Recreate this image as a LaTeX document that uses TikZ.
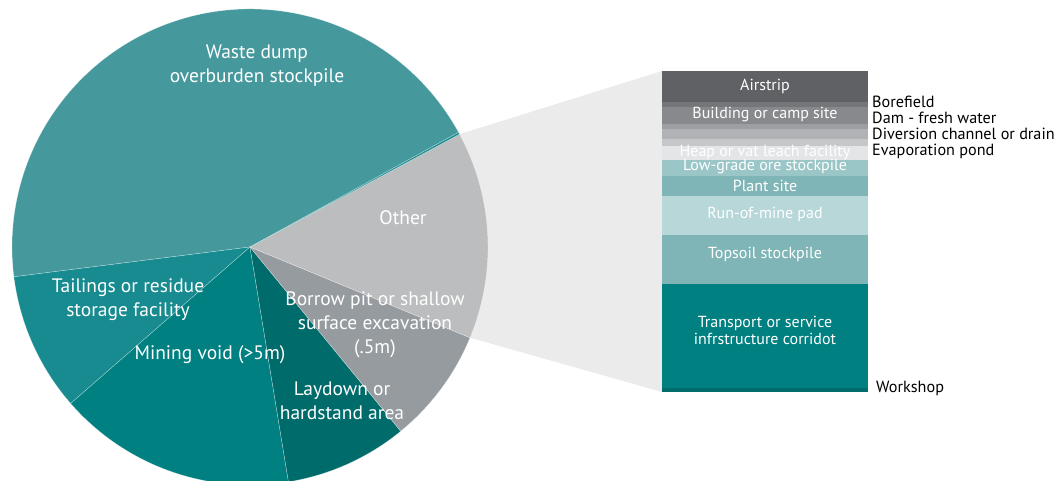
\documentclass[tikz,border=0pt]{standalone}
\usepackage{fontspec}
\setmainfont{PT Sans}
\usetikzlibrary{calc}
\definecolor{cWaste}{HTML}{45989C}
\definecolor{cTail}{HTML}{178B8F}
\definecolor{cMine}{HTML}{008080}
\definecolor{cLay}{HTML}{006B6B}
\definecolor{cBorrow}{HTML}{969BA0}
\definecolor{cOther}{HTML}{BCBDBF}
\definecolor{cBand}{HTML}{EBEBEB}
\definecolor{cAir}{HTML}{606164}
\definecolor{cBore}{HTML}{757679}
\definecolor{cBuild}{HTML}{88898C}
\definecolor{cDam}{HTML}{9D9EA1}
\definecolor{cDiv}{HTML}{B1B2B5}
\definecolor{cEvap}{HTML}{C6C7C9}
\definecolor{cHeap}{HTML}{E4E5E6}
\definecolor{cLow}{HTML}{9BC6C7}
\definecolor{cPlant}{HTML}{7FB5B6}
\definecolor{cRom}{HTML}{B8D7D8}
\definecolor{cTop}{HTML}{7FB5B6}
\definecolor{cTrans}{HTML}{008080}
\definecolor{cWork}{HTML}{006C6C}
\tikzset{
  pielabel/.style={text=white, align=center, font=\fontsize{19.5}{24}\selectfont, inner sep=0pt},
  barlabel/.style={text=white, align=center, font=\fontsize{16}{17}\selectfont, inner sep=0pt},
  sidelabel/.style={text=black, anchor=west, font=\fontsize{16.2}{16}\selectfont, inner sep=0pt},
  wedgeedge/.style={draw=white, draw opacity=0.5, line width=0.4pt}
}
\begin{document}
\begin{tikzpicture}[x=1pt,y=1pt]
\useasboundingbox (0,0) rectangle (1063,481);
\coordinate (c) at (250,234);
\def\R{238}
% zoom band
\fill[cBand] (c) -- ($(c)+(28.3:\R)$) -- (662,410) -- (662,89) -- ($(c)+(-22.4:\R)$) -- cycle;
% pie wedges
\fill[cWaste, wedgeedge] (c) -- ++(28.8:\R) arc[start angle=28.8, end angle=187.2, radius=\R] -- cycle;
\fill[cTail, wedgeedge] (c) -- ++(187.2:\R) arc[start angle=187.2, end angle=221.1, radius=\R] -- cycle;
\fill[cMine, wedgeedge] (c) -- ++(221.1:\R) arc[start angle=221.1, end angle=279.3, radius=\R] -- cycle;
\fill[cLay, wedgeedge] (c) -- ++(279.3:\R) arc[start angle=279.3, end angle=309.3, radius=\R] -- cycle;
\fill[cBorrow, wedgeedge] (c) -- ++(309.3:\R) arc[start angle=309.3, end angle=337.6, radius=\R] -- cycle;
\fill[cOther, wedgeedge] (c) -- ++(-22.4:\R) arc[start angle=-22.4, end angle=28.3, radius=\R] -- cycle;
\fill[cTail, wedgeedge] (c) -- ++(28.3:\R) arc[start angle=28.3, end angle=28.8, radius=\R] -- cycle;
% pie labels
\node[pielabel] (waste) at (257,415) {Waste dump\\overburden stockpile};
\node[pielabel] (other) at (403,263) {Other};
\node[pielabel] (tail) at (128,181) {Tailings or residue\\storage facility};
\node[pielabel] (mine) at (210,126) {Mining void (>5m)};
\node[pielabel] (borrow) at (375,156) {Borrow pit or shallow\\surface excavation\\(.5m)};
\node[pielabel] (lay) at (342,80) {Laydown or\\hardstand area};
% stacked bar (image y -> 481-y)
\def\bl{662}\def\br{868}
\fill[cAir]   (\bl,410)   rectangle (\br,379.3);
\fill[cBore]  (\bl,379.3) rectangle (\br,374.3);
\fill[cBuild] (\bl,374.3) rectangle (\br,356.7);
\fill[cDam]   (\bl,356.7) rectangle (\br,351.7);
\fill[cDiv]   (\bl,351.7) rectangle (\br,342);
\fill[cEvap]  (\bl,342)   rectangle (\br,335);
\fill[cHeap]  (\bl,335)   rectangle (\br,321);
\fill[cLow]   (\bl,321)   rectangle (\br,305.3);
\fill[cPlant] (\bl,305.3) rectangle (\br,285);
\fill[cRom]   (\bl,285)   rectangle (\br,246);
\fill[cTop]   (\bl,246)   rectangle (\br,197);
\fill[cTrans] (\bl,197)   rectangle (\br,93.3);
\fill[cWork]  (\bl,93.3)  rectangle (\br,89.3);
% bar labels
\node[barlabel] (air) at (765,395) {Airstrip};
\node[barlabel] (build) at (765,366) {Building or camp site};
\node[barlabel] (heap) at (765,329) {Heap or vat leach facility};
\node[barlabel] (low) at (765,314) {Low-grade ore stockpile};
\node[barlabel] (plant) at (765,295) {Plant site};
\node[barlabel] (rom) at (765,267) {Run-of-mine pad};
\node[barlabel] (top) at (765,227) {Topsoil stockpile};
\node[barlabel] (trans) at (765,151) {Transport or service\\infrstructure corridot};
% side labels
\node[sidelabel] (bore) at (872,379) {Borefield};
\node[sidelabel] (dam) at (872,363) {Dam - fresh water};
\node[sidelabel] (div) at (872,347) {Diversion channel or drain};
\node[sidelabel] (evap) at (872,330) {Evaporation pond};
\node[sidelabel] (work) at (876,93) {Workshop};
\end{tikzpicture}
\end{document}
